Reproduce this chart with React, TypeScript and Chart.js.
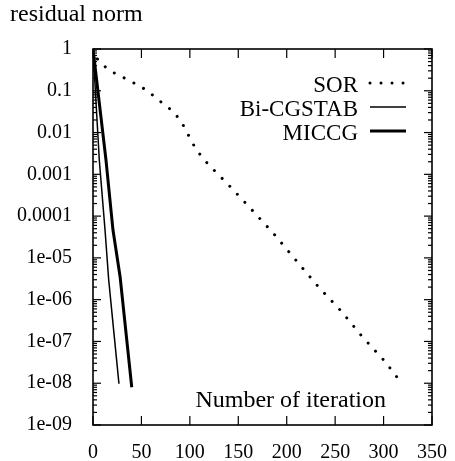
import React, { useEffect, useRef } from 'react';
import { Chart, registerables } from 'chart.js';
Chart.register(...registerables);

const seriesNames = ['SOR', 'Bi-CGSTAB', 'MICCG'];
const sorX = [0, 5, 14, 25, 35, 44, 55, 64, 73, 82, 90, 96, 101, 107, 115, 123, 139, 163, 187, 210, 233, 256, 278, 301, 316];
const sorY = [1, 0.55, 0.35, 0.24, 0.19, 0.146, 0.105, 0.071, 0.048, 0.033, 0.02, 0.0115, 0.0066, 0.0038, 0.0022, 0.0014, 5.9e-4, 1.5e-4, 3.7e-5, 8.5e-6, 2.0e-6, 5.4e-7, 1.3e-7, 3.4e-8, 1.2e-8];
const bicgX = [0, 6.5, 12.4, 16.2, 21.5, 26.8];
const bicgY = [1, 2.2e-3, 4.7e-5, 3e-6, 1.7e-7, 9.7e-9];
const miccgX = [0, 13.4, 20.6, 28, 40];
const miccgY = [1, 2.2e-3, 4.7e-5, 3.5e-6, 8e-9];

const xTickValues = [0, 50, 100, 150, 200, 250, 300, 350];
const yTickLabels = ['1', '0.1', '0.01', '0.001', '0.0001', '1e-05', '1e-06', '1e-07', '1e-08', '1e-09'];
const yTitle = 'residual norm';
const xTitle = 'Number of iteration';

const FONT = '"Liberation Serif", "Times New Roman", serif';

const toPts = (xs: number[], ys: number[]) => xs.map((x, i) => ({ x, y: ys[i] }));

const isPow10 = (v: number) => {
  const l = Math.log10(v);
  return Math.abs(l - Math.round(l)) < 1e-6;
};

const decorPlugin = {
  id: 'decor',
  afterDraw(chart: any) {
    const ctx = chart.ctx as CanvasRenderingContext2D;
    const { left, right, top, bottom } = chart.chartArea;
    const xs = chart.scales.x;
    const ys = chart.scales.y;
    ctx.save();
    ctx.strokeStyle = '#000';
    ctx.lineWidth = 1.6;
    ctx.strokeRect(left, top, right - left, bottom - top);
    ctx.lineWidth = 1.2;
    const line = (x1: number, y1: number, x2: number, y2: number) => {
      ctx.beginPath();
      ctx.moveTo(x1, y1);
      ctx.lineTo(x2, y2);
      ctx.stroke();
    };
    xs.ticks.forEach((t: any) => {
      const px = xs.getPixelForValue(t.value);
      line(px, bottom, px, bottom - 9);
      line(px, top, px, top + 9);
    });
    ys.ticks.forEach((t: any) => {
      const py = ys.getPixelForValue(t.value);
      const len = isPow10(t.value) ? 8 : 4;
      line(left, py, left + len, py);
      line(right, py, right - len, py);
    });

    // titles
    ctx.fillStyle = '#000';
    ctx.textBaseline = 'alphabetic';
    ctx.font = `24px ${FONT}`;
    ctx.textAlign = 'left';
    ctx.fillText(yTitle, 10, 21);
    ctx.font = `24px ${FONT}`;
    ctx.textAlign = 'right';
    ctx.fillText(xTitle, 386, 407);

    // legend
    const textRight = right - 74;
    const sx1 = right - 62;
    const sx2 = right - 26;
    chart.data.datasets.forEach((ds: any, i: number) => {
      const base = top + 43 + i * 24;
      ctx.font = `23px ${FONT}`;
      ctx.textAlign = 'right';
      ctx.fillText(ds.label, textRight, base);
      ctx.beginPath();
      ctx.lineWidth = ds.borderWidth;
      ctx.lineCap = ds.borderCapStyle || 'butt';
      ctx.setLineDash(ds.borderDash || []);
      ctx.moveTo(sx1, base - 9);
      ctx.lineTo(sx2, base - 9);
      ctx.stroke();
      ctx.setLineDash([]);
    });
    ctx.restore();
  },
};

export default function App() {
  const ref = useRef<HTMLCanvasElement | null>(null);
  useEffect(() => {
    if (!ref.current) return;
    const chart = new Chart(ref.current, {
      type: 'line',
      data: {
        datasets: [
          {
            label: seriesNames[0],
            data: toPts(sorX, sorY),
            borderColor: '#000',
            borderWidth: 3,
            borderDash: [0.01, 11],
            borderCapStyle: 'round',
            pointRadius: 0,
            tension: 0,
          },
          {
            label: seriesNames[1],
            data: toPts(bicgX, bicgY),
            borderColor: '#000',
            borderWidth: 1.5,
            pointRadius: 0,
            tension: 0,
          },
          {
            label: seriesNames[2],
            data: toPts(miccgX, miccgY),
            borderColor: '#000',
            borderWidth: 3,
            pointRadius: 0,
            tension: 0,
          },
        ],
      } as any,
      options: {
        animation: false,
        responsive: true,
        maintainAspectRatio: false,
        layout: { padding: { top: 49, right: 23, left: 0, bottom: 0 } },
        plugins: { legend: { display: false }, tooltip: { enabled: false }, title: { display: false } },
        scales: {
          x: {
            type: 'linear',
            min: 0,
            max: 350,
            grid: { display: false },
            border: { display: false },
            afterBuildTicks: (scale: any) => {
              scale.ticks = xTickValues.map((v) => ({ value: v }));
            },
            afterFit: (scale: any) => {
              scale.height = 36;
            },
            ticks: {
              color: '#000',
              font: { family: FONT, size: 20 },
              padding: 8,
              maxRotation: 0,
              autoSkip: false,
            },
          },
          y: {
            type: 'logarithmic',
            min: 1e-9,
            max: 1,
            grid: { display: false },
            border: { display: false },
            afterBuildTicks: (scale: any) => {
              const t: any[] = [];
              for (let e = -9; e <= 0; e++) {
                for (let k = 1; k <= 9; k++) {
                  if (e === 0 && k > 1) break;
                  t.push({ value: k * Math.pow(10, e) });
                }
              }
              scale.ticks = t;
            },
            afterFit: (scale: any) => {
              scale.width = 93;
            },
            ticks: {
              color: '#000',
              font: { family: FONT, size: 20 },
              padding: 13,
              autoSkip: false,
              callback: (value: any) => {
                const v = Number(value);
                if (!isPow10(v)) return '';
                const idx = -Math.round(Math.log10(v));
                return yTickLabels[idx] ?? '';
              },
            },
          },
        },
      } as any,
      plugins: [decorPlugin],
    });
    return () => chart.destroy();
  }, []);
  return (
    <div style={{ position: 'absolute', left: 0, top: 0, width: 455, height: 461 }}>
      <canvas ref={ref} />
    </div>
  );
}
